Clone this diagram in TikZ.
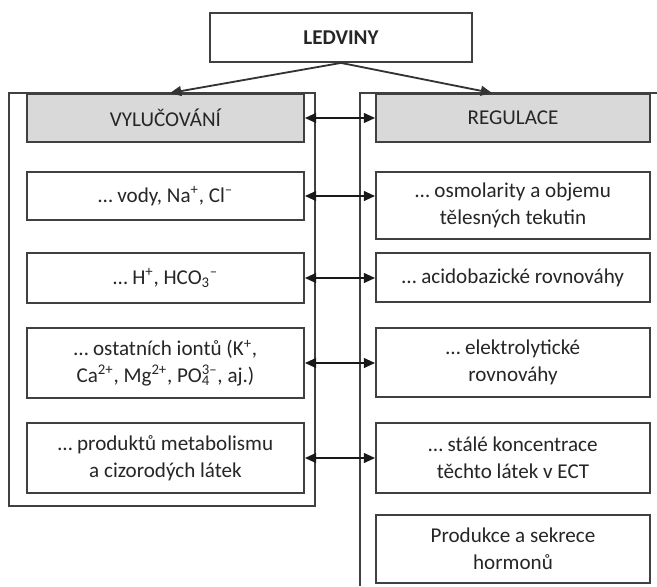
\documentclass[tikz,border=0pt]{standalone}
\usepackage{fontspec}
\setmainfont{Carlito}
\usetikzlibrary{arrows.meta,calc}

\begin{document}
\begin{tikzpicture}[x=0.025cm,y=-0.025cm,
  box/.style={draw=black!75,line width=1.3pt,fill=white,align=center,
    font=\fontsize{15}{19}\selectfont,text=black!85,inner sep=0pt},
  headbox/.style={box,fill=black!15},
  lbox/.style={minimum width=6.925cm},
  rbox/.style={minimum width=6.85cm},
  frame/.style={draw=black!75,line width=1.3pt},
  link/.style={draw=black!90,line width=1.3pt,
    {Triangle[length=8pt,width=7pt]}-{Triangle[length=8pt,width=7pt]}},
  feed/.style={draw=black!80,line width=1.3pt,-{Triangle[length=8pt,width=7pt]}}]
\useasboundingbox (0,0) rectangle (657,586);
% Frames
\draw[frame] (9,93) rectangle (315,506);
\draw[frame] (657,93) -- (360,93) -- (360,586);
% Top
\node[box,minimum width=6.55cm,minimum height=1.225cm,font=\fontsize{15}{19}\selectfont\bfseries] (ledviny) at (341,37.5) {LEDVINY};
\coordinate (vylin) at (170,93);
\coordinate (regin) at (492,93);
% Left column
\node[headbox,lbox,minimum height=1.2cm] (vyl) at (165.5,118) {VYLUČOVÁNÍ};
\node[box,lbox,minimum height=1.2cm] (vody) at (165.5,196) {\dots\ vody, Na\textsuperscript{+}, Cl\textsuperscript{--}};
\node[box,lbox,minimum height=1.25cm] (hco) at (165.5,278) {\dots\ H\textsuperscript{+}, HCO\textsubscript{3}\textsuperscript{--}};
\node[box,lbox,minimum height=1.75cm] (iony) at (165.5,363) {\dots\ ostatních iontů (K\textsuperscript{+},\\Ca\textsuperscript{2+}, Mg\textsuperscript{2+}, PO\rlap{\textsubscript{4}}\textsuperscript{3--}, aj.)};
\node[box,lbox,minimum height=1.75cm] (metab) at (165.5,458) {\dots\ produktů metabolismu\\a cizorodých látek};
% Right column
\node[headbox,rbox,minimum height=1.2cm] (reg) at (513,118) {REGULACE};
\node[box,rbox,minimum height=1.675cm] (osm) at (513,205.5) {\dots\ osmolarity a objemu\\tělesných tekutin};
\node[box,rbox,minimum height=1.225cm] (acid) at (513,277.5) {\dots\ acidobazické rovnováhy};
\node[box,rbox,minimum height=1.725cm] (elektro) at (513,362.5) {\dots\ elektrolytické\\rovnováhy};
\node[box,rbox,minimum height=1.75cm] (konc) at (513,458) {\dots\ stálé koncentrace\\těchto látek v ECT};
\node[box,rbox,minimum height=1.7cm] (horm) at (513,549) {Produkce a sekrece\\hormonů};
% Arrows
\draw[feed] (ledviny.south) -- (vylin);
\draw[feed] (ledviny.south) -- (regin);
\draw[link] (vyl.east) -- (vyl.east -| reg.west);
\draw[link] (vody.east) -- (vody.east -| osm.west);
\draw[link] (hco.east) -- (hco.east -| acid.west);
\draw[link] (iony.east) -- (iony.east -| elektro.west);
\draw[link] (metab.east) -- (metab.east -| konc.west);
\end{tikzpicture}
\end{document}
